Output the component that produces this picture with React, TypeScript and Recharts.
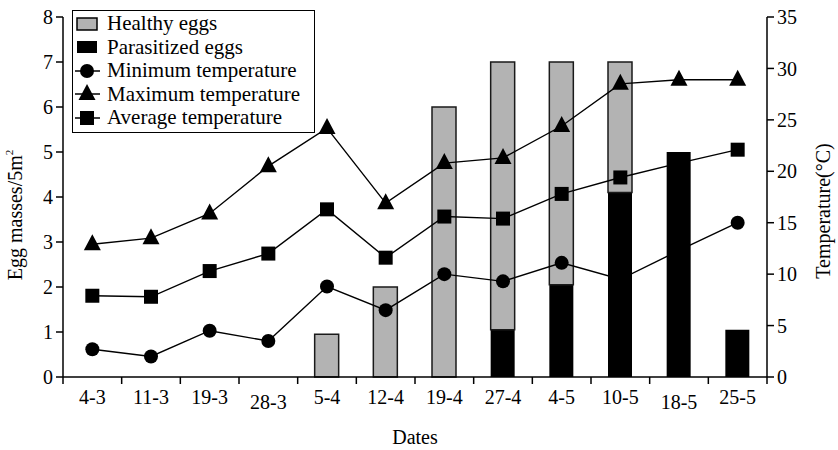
import { ComposedChart, Bar, Line, XAxis, YAxis, Legend } from 'recharts';

const dates = ['4-3', '11-3', '19-3', '28-3', '5-4', '12-4', '19-4', '27-4', '4-5', '10-5', '18-5', '25-5'];
const healthyEggs = [0, 0, 0, 0, 0.95, 2, 6, 5.95, 4.95, 2.9, 0, 0];
const parasitizedEggs = [0, 0, 0, 0, 0, 0, 0, 1.05, 2.05, 4.1, 5, 1.05];
const minTemp = [2.7, 2.0, 4.5, 3.5, 8.8, 6.5, 10.0, 9.3, 11.1, 9.5, 12.3, 15.0];
const maxTemp = [12.9, 13.5, 15.9, 20.5, 24.2, 16.9, 20.8, 21.3, 24.4, 28.5, 28.9, 28.9];
const avgTemp = [7.9, 7.8, 10.3, 12.0, 16.3, 11.6, 15.6, 15.4, 17.8, 19.4, 20.8, 22.1];

const eggTicks = [0, 1, 2, 3, 4, 5, 6, 7, 8];
const tempTicks = [0, 5, 10, 15, 20, 25, 30, 35];
const legendLabels = ['Healthy eggs', 'Parasitized eggs', 'Minimum temperature', 'Maximum temperature', 'Average temperature'];

const data = dates.map((d, i) => ({
  date: d,
  healthy: healthyEggs[i],
  parasitized: parasitizedEggs[i],
  min: minTemp[i],
  max: maxTemp[i],
  avg: avgTemp[i],
}));

const FONT = '"Liberation Serif", "Times New Roman", serif';
const GRAY = '#b3b3b3';
const PLOT_W = 704;
const HALF_BAND = PLOT_W / dates.length / 2;

const CircleDot = (props: any) => {
  const { cx, cy, index } = props;
  if (cx == null || cy == null) return null;
  return <circle key={`c-${index}`} cx={cx} cy={cy} r={7} fill="#000" />;
};

const SquareDot = (props: any) => {
  const { cx, cy, index } = props;
  if (cx == null || cy == null) return null;
  return <rect key={`s-${index}`} x={cx - 7} y={cy - 7} width={14} height={14} fill="#000" />;
};

const TriangleDot = (props: any) => {
  const { cx, cy, index } = props;
  if (cx == null || cy == null) return null;
  return <polygon key={`t-${index}`} points={`${cx},${cy - 10} ${cx - 8.5},${cy + 6} ${cx + 8.5},${cy + 6}`} fill="#000" />;
};

const DateTick = (props: any) => {
  const { x, y, payload, index } = props;
  // the scanned labels for 28-3 and 18-5 sit a little lower
  const dy = index === 3 || index === 10 ? 5 : 0;
  return (
    <g>
      <line x1={x - HALF_BAND} y1={y} x2={x - HALF_BAND} y2={y + 7} stroke="#000" strokeWidth={1.5} />
      {index === dates.length - 1 && (
        <line x1={x + HALF_BAND} y1={y} x2={x + HALF_BAND} y2={y + 7} stroke="#000" strokeWidth={1.5} />
      )}
      <text x={x} y={y + 27 + dy} textAnchor="middle" fontFamily={FONT} fontSize={20} fill="#000">
        {payload.value}
      </text>
    </g>
  );
};

const swatch = (i: number) => {
  if (i === 0) return <rect x={4} y={4} width={20} height={12} fill={GRAY} stroke="#000" strokeWidth={1.5} />;
  if (i === 1) return <rect x={4} y={4} width={20} height={12} fill="#000" />;
  const line = <line x1={2} y1={10} x2={27} y2={10} stroke="#000" strokeWidth={1.5} />;
  if (i === 2) return <g>{line}<circle cx={14} cy={10} r={7} fill="#000" /></g>;
  if (i === 3) return <g>{line}<polygon points="14,0 5.5,16 22.5,16" fill="#000" /></g>;
  return <g>{line}<rect x={7} y={3} width={14} height={14} fill="#000" /></g>;
};

const LegendBox = () => (
  <div
    style={{
      border: '1.5px solid #000',
      background: '#fff',
      width: 241,
      padding: '1px 0 2px 0',
      fontFamily: FONT,
      fontSize: 21,
      color: '#000',
    }}
  >
    {legendLabels.map((label, i) => (
      <div key={label} style={{ display: 'flex', alignItems: 'center', height: 23.5, whiteSpace: 'nowrap' }}>
        <svg width={34} height={20} style={{ flex: 'none' }}>{swatch(i)}</svg>
        <span>{label}</span>
      </div>
    ))}
  </div>
);

const EggLabel = (props: any) => {
  const { viewBox } = props;
  const x = viewBox.x + 22;
  const y = viewBox.y + viewBox.height / 2 + 18;
  return (
    <text x={x} y={y} transform={`rotate(-90 ${x} ${y})`} textAnchor="middle" fontFamily={FONT} fontSize={20} fill="#000">
      Egg masses/5m<tspan dy={-9} fontSize={11}>2</tspan>
    </text>
  );
};

const TempLabel = (props: any) => {
  const { viewBox } = props;
  const x = viewBox.x + 63;
  const y = viewBox.y + viewBox.height / 2 + 14;
  return (
    <text x={x} y={y} transform={`rotate(-90 ${x} ${y})`} textAnchor="middle" fontFamily={FONT} fontSize={20} fill="#000">
      Temperature(°C)
    </text>
  );
};

const DatesLabel = (props: any) => {
  const { viewBox } = props;
  return (
    <text x={viewBox.x + viewBox.width / 2} y={viewBox.y + 67} textAnchor="middle" fontFamily={FONT} fontSize={20} fill="#000">
      Dates
    </text>
  );
};

export default function App() {
  return (
    <div style={{ position: 'absolute', left: 0, top: 0, background: '#fff' }}>
      <ComposedChart width={838} height={450} data={data} margin={{ top: 17, right: 0, bottom: 0, left: 0 }}>
        <XAxis
          dataKey="date"
          height={73}
          tickSize={0}
          tickMargin={0}
          tickLine={false}
          interval={0}
          axisLine={{ stroke: '#000', strokeWidth: 1.5 }}
          tick={DateTick}
          label={DatesLabel}
        />
        <YAxis
          yAxisId="eggs"
          width={63}
          domain={[0, 8]}
          ticks={eggTicks}
          interval={0}
          tickSize={7}
          tickMargin={3}
          axisLine={{ stroke: '#000', strokeWidth: 1.5 }}
          tickLine={{ stroke: '#000', strokeWidth: 1.5 }}
          tick={{ fontFamily: FONT, fontSize: 20, fill: '#000' }}
          label={EggLabel}
        />
        <YAxis
          yAxisId="temp"
          orientation="right"
          width={71}
          domain={[0, 35]}
          ticks={tempTicks}
          interval={0}
          tickSize={7}
          tickMargin={3}
          axisLine={{ stroke: '#000', strokeWidth: 1.5 }}
          tickLine={{ stroke: '#000', strokeWidth: 1.5 }}
          tick={{ fontFamily: FONT, fontSize: 20, fill: '#000' }}
          label={TempLabel}
        />
        <Legend
          layout="vertical"
          align="center"
          verticalAlign="middle"
          content={LegendBox}
          wrapperStyle={{ top: 10, left: 72, width: 'auto' }}
        />
        <Bar yAxisId="eggs" dataKey="parasitized" stackId="eggs" fill="#000" barSize={24} isAnimationActive={false} />
        <Bar
          yAxisId="eggs"
          dataKey="healthy"
          stackId="eggs"
          fill={GRAY}
          stroke="#1a1a1a"
          strokeWidth={1.5}
          barSize={24}
          isAnimationActive={false}
        />
        <Line yAxisId="temp" type="linear" dataKey="min" stroke="#000" strokeWidth={1.4} dot={CircleDot} activeDot={false} isAnimationActive={false} />
        <Line yAxisId="temp" type="linear" dataKey="max" stroke="#000" strokeWidth={1.4} dot={TriangleDot} activeDot={false} isAnimationActive={false} />
        <Line yAxisId="temp" type="linear" dataKey="avg" stroke="#000" strokeWidth={1.4} dot={SquareDot} activeDot={false} isAnimationActive={false} />
      </ComposedChart>
    </div>
  );
}
